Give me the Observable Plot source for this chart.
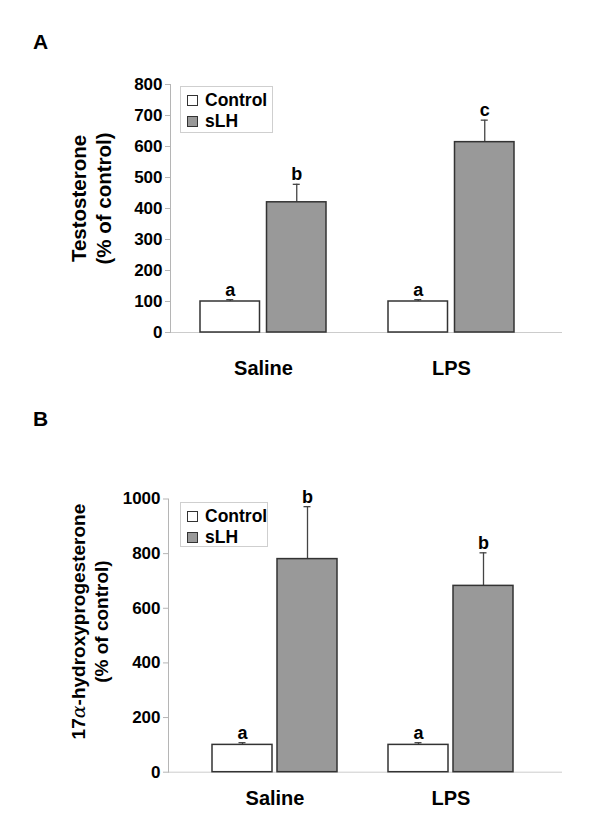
<!DOCTYPE html>
<html><head><meta charset="utf-8">
<script src="https://cdn.jsdelivr.net/npm/d3@7"></script>
<script src="https://cdn.jsdelivr.net/npm/@observablehq/plot@0.6"></script>
<style>
body{margin:0;background:#fff;font-family:"Liberation Sans",Arial,sans-serif;}
#wrap{position:relative;width:600px;height:829px;overflow:hidden;}
.panel{position:absolute;left:0;width:600px;}
.letter{position:absolute;left:33px;font-weight:bold;font-size:21px;line-height:1;}
.legend{position:absolute;box-sizing:border-box;border:1px solid #cfcfcf;background:#fff;font-weight:bold;font-size:17.5px;padding:3px 0 0 6px;}
.legend .row{display:flex;align-items:center;height:21px;line-height:21px;}
.legend .sw{width:9px;height:9px;border:1px solid #333;margin-right:7px;flex:none;}
</style>
</head><body>
<div id="wrap">
  <div class="panel" id="pa" style="top:0;height:400px;"></div>
  <div class="panel" id="pb" style="top:400px;height:429px;"></div>
</div>
<script>
// ---- data ----
const groups = ["Saline", "LPS"];
const treatments = ["Control", "sLH"];
const treatmentFills = ["white", "#999999"];

// order per group: Control, sLH
const testoMean = [100, 420, 100, 614];
const testoErr = [6, 58, 6, 71];
const testoLetters = ["a", "b", "a", "c"];
const testoTicks = [0, 100, 200, 300, 400, 500, 600, 700, 800];

const ohpMean = [100, 780, 100, 682];
const ohpErr = [8, 192, 8, 121];
const ohpLetters = ["a", "b", "a", "b"];
const ohpTicks = [0, 200, 400, 600, 800, 1000];

function rowsOf(means, errs, letters) {
  return means.map((m, i) => ({
    group: groups[Math.floor(i / 2)],
    treatment: treatments[i % 2],
    mean: m,
    err: errs[i],
    letter: letters[i]
  }));
}

function panel(cfg) {
  const rows = rowsOf(cfg.means, cfg.errs, cfg.letters);
  const bw = cfg.bandwidth, gap = cfg.gap;
  const off = bw / 4 + gap / 4;
  const marks = [
    Plot.ruleY([0], {stroke: "#cccccc", strokeWidth: 1}),
    Plot.frame({anchor: "left", stroke: "#b5b5b5"}),
    Plot.axisY(cfg.ticks, {tickSize: 5, tickPadding: 3, stroke: "#b5b5b5", fill: "black",
      fontSize: 17, fontWeight: "bold", label: null, tickFormat: d => String(d)}),
    Plot.axisX({tickSize: 0, tickPadding: cfg.xPad, fill: "black", fontSize: 20,
      fontWeight: "bold", label: null}),
    Plot.text([cfg.title], {frameAnchor: "left", textAnchor: "middle", rotate: -90,
      dx: cfg.titleDx, dy: cfg.titleDy, text: d => d,
      fontSize: cfg.titleSize, fontWeight: "bold", lineHeight: cfg.titleLH, fill: "black"})
  ];
  treatments.forEach((t, k) => {
    const sub = rows.filter(d => d.treatment === t);
    const sign = k === 0 ? -1 : 1;
    marks.push(
      Plot.ruleX(sub, {x: "group", y1: "mean", y2: d => d.mean + d.err, dx: sign * off,
        stroke: "#444", strokeWidth: 1.3}),
      Plot.tickY(sub, {x: "group", y: d => d.mean + d.err, dx: sign * off,
        insetLeft: bw / 2 - 4, insetRight: bw / 2 - 4, stroke: "#444", strokeWidth: 1.3}),
      Plot.barY(sub, {x: "group", y: "mean", fill: treatmentFills[k], stroke: "#333",
        strokeWidth: 1.5,
        insetLeft: k === 0 ? 0 : bw / 2 + gap / 2,
        insetRight: k === 0 ? bw / 2 + gap / 2 : 0}),
      Plot.text(sub, {x: "group", y: d => d.mean + d.err, text: "letter", dx: sign * off,
        dy: -4, lineAnchor: "bottom", fontSize: 18, fontWeight: "bold", fill: "black"})
    );
  });
  return Plot.plot({
    width: 600,
    height: cfg.height,
    marginLeft: cfg.marginLeft,
    marginRight: cfg.marginRight,
    marginTop: cfg.marginTop,
    marginBottom: cfg.marginBottom,
    style: {fontFamily: '"Liberation Sans", Arial, sans-serif', background: "white", overflow: "visible"},
    x: {domain: groups, range: cfg.xRange, paddingInner: cfg.paddingInner, paddingOuter: 0},
    y: {domain: cfg.yDomain},
    marks
  });
}

function legend(parent, left, top, w, h) {
  const div = document.createElement("div");
  div.className = "legend";
  div.style.left = left + "px"; div.style.top = top + "px";
  div.style.width = w + "px"; div.style.height = h + "px";
  treatments.forEach((t, k) => {
    const r = document.createElement("div"); r.className = "row";
    const sw = document.createElement("span"); sw.className = "sw"; sw.style.background = treatmentFills[k];
    const tx = document.createElement("span"); tx.textContent = t;
    r.appendChild(sw); r.appendChild(tx); div.appendChild(r);
  });
  parent.appendChild(div);
}
function letter(parent, txt, top) {
  const d = document.createElement("div"); d.className = "letter"; d.textContent = txt;
  d.style.top = top + "px"; parent.appendChild(d);
}
// render the Greek alpha as an italic serif glyph, as in the original figure
function italicAlpha(svg) {
  const NS = "http://www.w3.org/2000/svg";
  svg.querySelectorAll("text, tspan").forEach(el => {
    if (el.children.length === 0 && el.textContent.includes("α")) {
      const parts = el.textContent.split("α");
      el.textContent = parts[0];
      const a = document.createElementNS(NS, "tspan");
      a.textContent = "α";
      a.setAttribute("font-style", "italic");
      a.setAttribute("font-weight", "normal");
      a.setAttribute("font-family", '"DejaVu Serif", "Liberation Serif", serif');
      el.appendChild(a);
      el.appendChild(document.createTextNode(parts.slice(1).join("α")));
    }
  });
}

const pa = document.getElementById("pa");
pa.appendChild(panel({
  means: testoMean, errs: testoErr, letters: testoLetters, ticks: testoTicks,
  yDomain: [0, 800], height: 400, marginLeft: 170, marginRight: 38, marginTop: 84, marginBottom: 68,
  xRange: [199, 515], paddingInner: 0.328, bandwidth: 127, gap: 6, xPad: 28,
  title: "Testosterone\n(% of control)", titleDx: -80, titleDy: -10, titleSize: 20.5, titleLH: 1.22
}));
legend(pa, 180, 86, 93, 47);
letter(pa, "A", 31);

const pb = document.getElementById("pb");
const svgB = panel({
  means: ohpMean, errs: ohpErr, letters: ohpLetters, ticks: ohpTicks,
  yDomain: [0, 1000], height: 429, marginLeft: 168, marginRight: 38, marginTop: 98.5, marginBottom: 57.3,
  xRange: [211, 514], paddingInner: 0.288, bandwidth: 126, gap: 4, xPad: 19,
  title: "17α-hydroxyprogesterone\n(% of control)", titleDx: -79, titleDy: -14, titleSize: 19, titleLH: 1.2
});
italicAlpha(svgB);
pb.appendChild(svgB);
legend(pb, 180, 102, 88, 45);
letter(pb, "B", 8);
</script>
</body></html>
